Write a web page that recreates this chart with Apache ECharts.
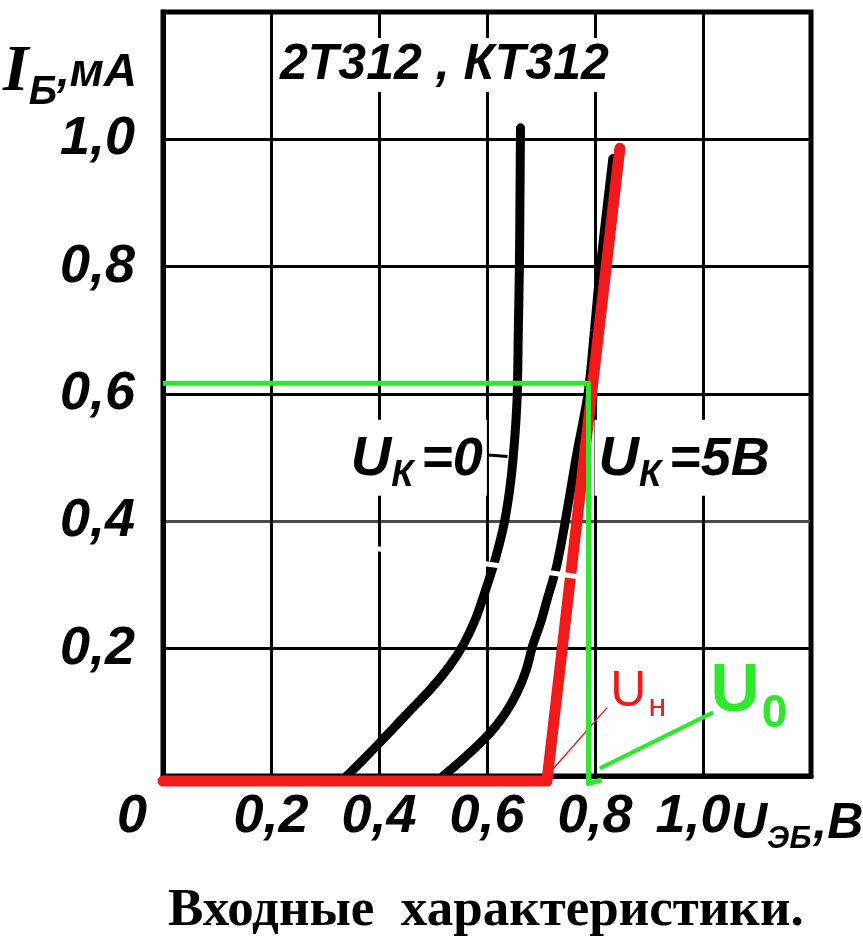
<!DOCTYPE html>
<html><head><meta charset="utf-8">
<script src="https://cdn.jsdelivr.net/npm/echarts@6/dist/echarts.min.js"></script>
<style>html,body{margin:0;padding:0;background:#fff}#c{width:863px;height:948px}</style>
</head><body><div id="c"></div>
<script>
// ---- data ----
const xTicks = [0, 0.2, 0.4, 0.6, 0.8, 1.0, 1.2];
const xTickLabels = ['0', '0,2', '0,4', '0,6', '0,8', '1,0', ''];
const yTickLabels = ['', '0,2', '0,4', '0,6', '0,8', '1,0', ''];
const curveUk0 = [[0.340,0],[0.370,0.025],[0.402,0.053],[0.450,0.096],[0.494,0.135],[0.530,0.172],[0.556,0.206],[0.578,0.245],[0.593,0.281],[0.611,0.328],[0.623,0.365],[0.633,0.402],[0.642,0.45],[0.648,0.496],[0.653,0.55],[0.656,0.6],[0.658,0.7],[0.660,0.8],[0.661,0.9],[0.662,1.018]];
const curveUk5 = [[0.519,0],[0.560,0.030],[0.606,0.068],[0.635,0.100],[0.655,0.130],[0.672,0.165],[0.685,0.206],[0.699,0.240],[0.711,0.276],[0.729,0.330],[0.745,0.400],[0.765,0.500],[0.787,0.600],[0.799,0.700],[0.810,0.800],[0.822,0.890],[0.833,0.970]];
const redLine = [[0,-0.008],[0.711,-0.008],[0.846,0.986]];
const redThin = [[0.711,0],[0.822,0.107]];
const greenLine = [[0,0.617],[0.788,0.617],[0.788,-0.012],[0.812,-0.006]];
const greenThin = [[0.809,0.012],[1.019,0.1]];
const leader = [[0.590,0.505],[0.638,0.502]];
const scanGap = [[0.37,0.36],[0.77,0.313]];
const labelUk0 = [0.470, 0.50];
const labelUk5 = [0.965, 0.50];
const labelUn = [0.880, 0.132];
const labelU0 = [1.085, 0.132];

const SANS = '"Liberation Sans",Arial,sans-serif';
const tick = {fontFamily: SANS, fontStyle: 'italic', fontWeight: 'bold', fontSize: 54, color: '#000'};
const RED = '#f01a1a', GREEN = '#2ee82e';
const idx = v => Math.round(v / 0.2);

const chart = echarts.init(document.getElementById('c'), null, {renderer: 'canvas'});
chart.setOption({
  animation: false,
  backgroundColor: '#fff',
  title: [
    {text: '2Т312 , КТ312', left: 274, top: 38, padding: [2, 6],
     backgroundColor: '#fff',
     textStyle: Object.assign({}, tick, {fontSize: 50})},
    {text: 'Входные  характеристики.', left: 163, top: 880,
     textStyle: {fontFamily: '"Liberation Serif",serif', fontWeight: 'bold', fontSize: 53, color: '#000'}}
  ],
  grid: {left: 163, right: 52, top: 12, bottom: 172, show: true, borderColor: '#000', borderWidth: 5,
         containLabel: false, outerBoundsMode: 'none'},
  xAxis: {
    type: 'value', min: 0, max: 1.2, interval: 0.2,
    axisLine: {show: true, lineStyle: {color: '#000', width: 5}},
    axisTick: {show: false},
    splitLine: {show: true, lineStyle: {color: '#000', width: 3}},
    axisLabel: {margin: 14,
      formatter: (v) => idx(v) === 0 ? '{z|0}' : (idx(v) === 5 ? '{e|' + xTickLabels[5] + '}' : xTickLabels[idx(v)]),
      fontFamily: SANS, fontStyle: 'italic', fontWeight: 'bold', fontSize: 54, color: '#000',
      rich: {z: Object.assign({}, tick, {padding: [0, 62, 0, 0]}),
             e: Object.assign({}, tick, {padding: [0, 20, 0, 0]})}},
    name: '{u|U}{s|ЭБ}{t|,В}', nameLocation: 'end', nameGap: -80, nameMoveOverlap: false,
    nameTextStyle: {align: 'left', verticalAlign: 'top', padding: [18, 0, 0, 0],
      rich: {u: Object.assign({}, tick, {fontSize: 50}),
             s: Object.assign({}, tick, {fontSize: 31, padding: [30, 2, 0, 0]}),
             t: Object.assign({}, tick, {fontSize: 50})}}
  },
  yAxis: {
    type: 'value', min: 0, max: 1.2, interval: 0.2,
    axisLine: {show: true, lineStyle: {color: '#000', width: 5}},
    axisTick: {show: false},
    splitLine: {show: true, lineStyle: {color: ['#000', '#000', '#4a4a4a', '#000', '#000', '#000', '#000'], width: 3}},
    axisLabel: {margin: 28, formatter: (v) => yTickLabels[idx(v)],
      fontFamily: SANS, fontStyle: 'italic', fontWeight: 'bold', fontSize: 54, color: '#000'},
    name: '{i|I}{s|Б}{t|,мА}', nameLocation: 'end', nameGap: -21, nameMoveOverlap: false,
    nameTextStyle: {align: 'right', verticalAlign: 'top', padding: [0, 26, 0, 0],
      rich: {i: {fontFamily: '"Liberation Serif",serif', fontStyle: 'italic', fontWeight: 'bold', fontSize: 66, color: '#000'},
             s: Object.assign({}, tick, {fontSize: 40, padding: [40, 0, 0, 0]}),
             t: Object.assign({}, tick, {fontSize: 46})}}
  },
  series: [
    {type: 'line', data: curveUk0, smooth: 0.3, symbol: 'none', silent: true,
     lineStyle: {color: '#000', width: 9, cap: 'round'}},
    {type: 'line', data: curveUk5, smooth: 0.3, symbol: 'none', silent: true,
     lineStyle: {color: '#000', width: 9, cap: 'round'}},
    {type: 'line', data: redLine, symbol: 'none', silent: true, clip: false,
     lineStyle: {color: RED, width: 11, cap: 'round', join: 'round'}},
    {type: 'line', data: scanGap, symbol: 'none', silent: true,
     lineStyle: {color: '#fff', width: 5}},
    {type: 'line', data: redThin, symbol: 'none', silent: true,
     lineStyle: {color: RED, width: 1.5}},
    {type: 'line', data: greenLine, symbol: 'none', silent: true, clip: false, z: 6,
     lineStyle: {color: GREEN, width: 5, join: 'round'}},
    {type: 'line', data: greenThin, symbol: 'none', silent: true, z: 6,
     lineStyle: {color: GREEN, width: 4}},
    {type: 'line', data: leader, symbol: 'none', silent: true,
     lineStyle: {color: '#000', width: 3}},
    {type: 'scatter', symbolSize: 1, silent: true, z: 5,
     itemStyle: {color: 'transparent', opacity: 1},
     data: [
       {value: labelUk0, label: {formatter: '{u|U}{s|К}{t|=0}'}},
       {value: labelUk5, label: {formatter: '{u|U}{s|К}{t|=5В}'}}
     ],
     label: {show: true, position: 'inside', color: '#000', opacity: 1, backgroundColor: '#fff', padding: [6, 4, 2, 4],
       rich: {u: Object.assign({}, tick, {fontSize: 56}),
              s: Object.assign({}, tick, {fontSize: 36, padding: [32, 8, 0, 0]}),
              t: Object.assign({}, tick, {fontSize: 54})}}},
    {type: 'scatter', symbolSize: 1, silent: true, z: 5,
     itemStyle: {color: 'transparent', opacity: 1},
     data: [
       {value: labelUn, label: {formatter: '{u|U}{s|н}', rich: {
         u: {fontFamily: SANS, fontSize: 50, color: RED},
         s: {fontFamily: SANS, fontSize: 32, color: RED, padding: [30, 0, 0, 2]}}}},
       {value: labelU0, label: {formatter: '{u|U}{s|0}', rich: {
         u: {fontFamily: SANS, fontWeight: 'bold', fontSize: 68, color: GREEN},
         s: {fontFamily: SANS, fontWeight: 'bold', fontSize: 46, color: GREEN, padding: [44, 0, 0, 2]}}}}
     ],
     label: {show: true, position: 'inside', opacity: 1}}
  ]
});
</script></body></html>
